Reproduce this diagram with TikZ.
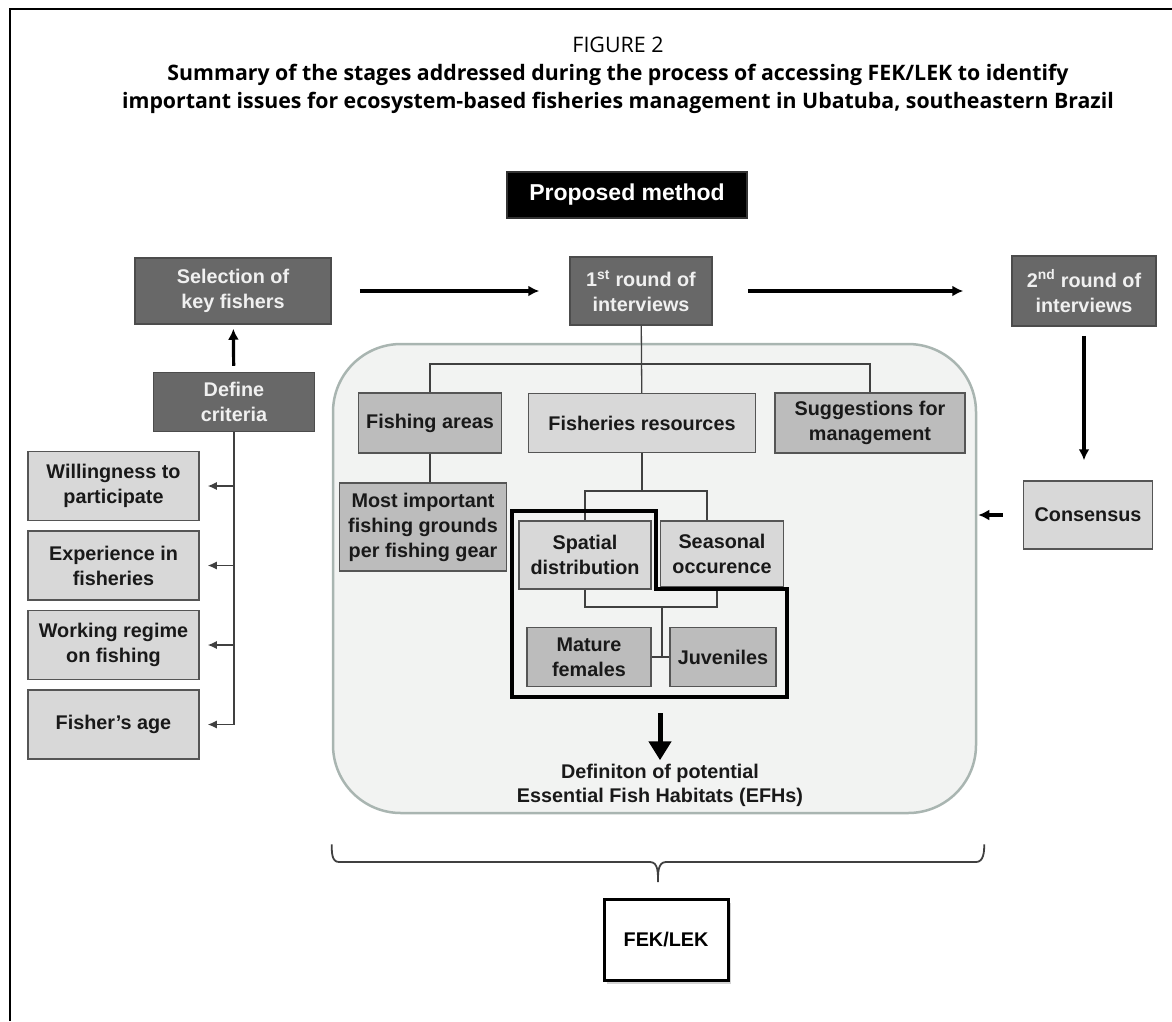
\documentclass[tikz,border=0pt]{standalone}
\usepackage{fontspec}
\setmainfont{Liberation Sans}
\newfontfamily\titlefont{Open Sans}
\usetikzlibrary{positioning, arrows.meta, shadows}
\definecolor{darkbox}{HTML}{686868}
\definecolor{midbox}{HTML}{BCBCBC}
\definecolor{lightbox}{HTML}{D8D8D8}
\definecolor{panelfill}{HTML}{F2F3F2}
\definecolor{paneledge}{HTML}{A9B5B1}
\definecolor{edge}{HTML}{555555}
\tikzstyle{boxbase} = [rectangle, draw=edge, line width=1.5pt, align=center, inner sep=2pt, font=\bfseries\fontsize{19.8}{25}\selectfont]
\tikzstyle{darkstep} = [boxbase, fill=darkbox, draw=black!70, text=white!94!black]
\tikzstyle{midstep} = [boxbase, fill=midbox, text=black!90]
\tikzstyle{lightstep} = [boxbase, fill=lightbox, text=black!90]
\tikzstyle{crit} = [lightstep, minimum width=171pt, minimum height=69pt]
\tikzstyle{link} = [draw=black!75, line width=1.3pt]
\tikzstyle{arrow} = [line width=3.2pt, -{Latex[length=11pt,width=11pt]}]
\tikzstyle{thinarrow} = [link, -{Latex[length=9pt,width=8pt]}]
\tikzstyle{bigarrow} = [line width=5pt, -{Triangle[length=19pt,width=22pt]}]

\begin{document}
\begin{tikzpicture}[x=1pt, y=-1pt]
\useasboundingbox (0,0) rectangle (1172,1021);
\draw [line width=2pt] (10,1021) -- (10,9) -- (1172,9);

% Titolo
\node (fig) [font=\titlefont\fontsize{21.4}{26}\selectfont] at (618,45) {FIGURE 2};
\node (title) [font=\titlefont\bfseries\fontsize{21.3}{28}\selectfont, align=center] at (618,89)
  {Summary of the stages addressed during the process of accessing FEK/LEK to identify\\
   important issues for ecosystem-based fisheries management in Ubatuba, southeastern Brazil};

% Riquadro centrale
\node (core) [rectangle, rounded corners=68pt, fill=panelfill, draw=paneledge, line width=2.5pt,
  minimum width=643pt, minimum height=469pt] at (654.5,578.5) {};

% Nodi principali
\node (method) [boxbase, fill=black, draw=black!80, text=white, minimum width=240pt, minimum height=46pt,
  font=\bfseries\fontsize{23}{26}\selectfont] at (627,195) {Proposed method};
\node (select) [darkstep, minimum width=196pt, minimum height=66pt] at (233,291) {Selection of\\key fishers};
\node (round1) [darkstep, minimum width=142pt, minimum height=68pt] at (641,291) {1\textsuperscript{st} round of\\interviews};
\node (round2) [darkstep, minimum width=144pt, minimum height=70pt] at (1084,291) {2\textsuperscript{nd} round of\\interviews};
\node (criteria) [darkstep, minimum width=161pt, minimum height=59pt] at (234,402) {Define\\criteria};

% Criteri
\node (willing) [crit] at (113.5,486) {Willingness to\\participate};
\node (experience) [crit, below=9pt of willing] {Experience in\\fisheries};
\node (regime) [crit, below=9pt of experience] {Working regime\\on fishing};
\node (age) [crit, below=9pt of regime] {Fisher's age};

% Dentro il riquadro
\node (areas) [midstep, minimum width=143pt, minimum height=60pt] at (430,423) {Fishing areas};
\node (resources) [lightstep, minimum width=227pt, minimum height=59pt] at (642,423) {Fisheries resources};
\node (suggest) [midstep, minimum width=190pt, minimum height=60pt] at (870,423) {Suggestions for\\management};
\node (grounds) [midstep, minimum width=167pt, minimum height=88pt] at (423,527) {Most important\\fishing grounds\\per fishing gear};
\node (spatial) [lightstep, minimum width=132pt, minimum height=68pt] at (585,555) {Spatial\\distribution};
\node (seasonal) [lightstep, minimum width=123pt, minimum height=66pt] at (722,554) {Seasonal\\occurence};
\node (mature) [midstep, minimum width=124pt, minimum height=59pt] at (589,657) {Mature\\females};
\node (juveniles) [midstep, minimum width=106pt, minimum height=59pt] at (723,657) {Juveniles};
\node (efh) [align=center, font=\bfseries\fontsize{19.8}{24}\selectfont, text=black!90] at (660,785)
  {Definiton of potential\\Essential Fish Habitats (EFHs)};

\node (consensus) [lightstep, minimum width=129pt, minimum height=68pt] at (1088,515) {Consensus};
\node (fek) [rectangle, draw=black, line width=3pt, fill=white, minimum width=124pt, minimum height=81pt,
  drop shadow={opacity=0.35, shadow xshift=3pt, shadow yshift=-3pt},
  font=\bfseries\fontsize{19.8}{24}\selectfont] at (666,940) {FEK/LEK};

% Punti di raccordo
\coordinate (split1) at (641,364);
\coordinate (split2) at (642,491);
\coordinate (join2) at (662,607);
\coordinate (efhtop) at (660,713);

% Flussi
\draw [arrow, shorten <=28pt, shorten >=30pt] (select) -- (round1);
\draw [arrow, shorten <=35pt, shorten >=48pt] (round1) -- (round2);
\draw [arrow, shorten <=6pt, shorten >=4pt] (criteria) -- (select);
\draw [arrow, shorten <=9pt, shorten >=20pt] (round2.south) -- (round2.south |- consensus.north);
\draw [arrow, shorten <=20pt, shorten >=1pt] (consensus.west) -- (consensus.west -| core.east);

% Criteri
\draw [link] (criteria.south) -- (criteria.south |- age.east);
\foreach \c in {willing, experience, regime, age}
  \draw [thinarrow, shorten >=8pt] (criteria.south |- \c.east) -- (\c.east);

% Albero
\draw [link] (round1) -- (resources);
\draw [link] (areas.north) |- (split1) -| (suggest.north);
\draw [link] (areas.south) -- (areas.south |- grounds.north);
\draw [link] (resources.south) -- (split2);
\draw [link] (spatial.north) |- (split2) -| ([xshift=-15pt]seasonal.north);
\draw [link] (spatial.south) |- (join2) -| ([xshift=-5pt]seasonal.south);
\draw [link] (join2) -- (join2 |- mature.east);
\draw [link] (mature.east) -- (juveniles.west);

% Contorno spesso
\draw [line width=4pt, line join=miter] (512,511) -- (656,511) -- (656,589) -- (787,589) -- (787,697) -- (512,697) -- cycle;
\draw [bigarrow] (efhtop) -- (efh.north);

% Graffa
\draw [link, line width=1.8pt] ([yshift=-30pt]core.south west) to[out=-90,in=180] (339,862) -- (650,862)
  to[out=0,in=90] (658,882) to[out=90,in=180] (666,862) -- (976,862) to[out=0,in=-90] ([xshift=7pt,yshift=-30pt]core.south east);

\end{tikzpicture}
\end{document}
